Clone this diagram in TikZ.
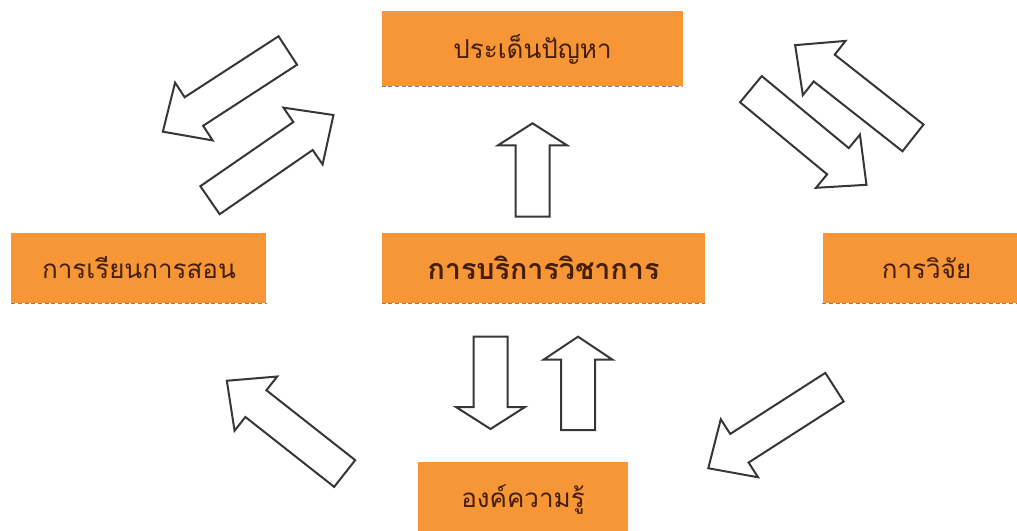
\documentclass[tikz,border=0pt]{standalone}
\usepackage{fontspec}
\newfontfamily\thaifont[Script=Thai]{Loma}
\usepackage{xcolor}
\usepackage{tikz}
\usetikzlibrary{shapes,arrows,positioning}

\definecolor{boxorange}{RGB}{247,150,54}
\definecolor{boxtext}{RGB}{68,30,6}
\definecolor{arrowline}{RGB}{55,55,55}

\tikzset{
  topic/.style={fill=boxorange, text=boxtext, font=\thaifont\fontsize{19.5}{24}\selectfont,
    minimum height=52.5pt, inner sep=0pt},
  shadowline/.style={gray, densely dashed, line width=1pt},
  blockarrow/.style={draw=arrowline, fill=white, line width=1.5pt},
}

\begin{document}
\begin{tikzpicture}[x=0.75pt, y=-0.75pt, node distance=0pt]
    \useasboundingbox (0,0) rectangle (1017,531);

    % boxes
    \node [topic, minimum width=242.25pt] (main) at (543.5,268) {\fontsize{21.5}{26}\selectfont\bfseries การบริการวิชาการ};
    \node [topic, minimum width=225.75pt, minimum height=56.25pt, above right=109.5pt and 0pt of main.north west] (prob) {ประเด็นปัญหา};
    \node [topic, minimum width=191.25pt, left=86.25pt of main] (teach) {การเรียนการสอน};
    \node [topic, minimum width=156pt, right=87.75pt of main] (research) {การวิจัย};
    \node [topic, minimum width=157.5pt, minimum height=56.25pt, below right=118.5pt and 27pt of main.south west] (know) {องค์ความรู้};

    \foreach \b in {prob,main,teach,research,know}
        \draw [shadowline] (\b.south west) -- (\b.south east);

    % block arrows: tail x/y, angle, length, head length
    \foreach \x/\y/\a/\l/\h in {532.5/216.7/90/93.4/22, 490.5/336.7/-90/92.3/22, 578/430/90/93.3/23,
        287.8/50.5/213/149/37, 210/200.2/34.6/150/37, 913/137.9/141.8/150/37,
        750.9/89.2/-39.6/150/37, 344.7/473.5/141.8/150/37, 834.5/387.2/212.7/150/37}
        \draw [blockarrow, shift={(\x,\y)}, rotate=\a] (0,-17) -- (\l-\h,-17) -- (\l-\h,-34.5)
            -- (\l,0) -- (\l-\h,34.5) -- (\l-\h,17) -- (0,17) -- cycle;
\end{tikzpicture}
\end{document}
